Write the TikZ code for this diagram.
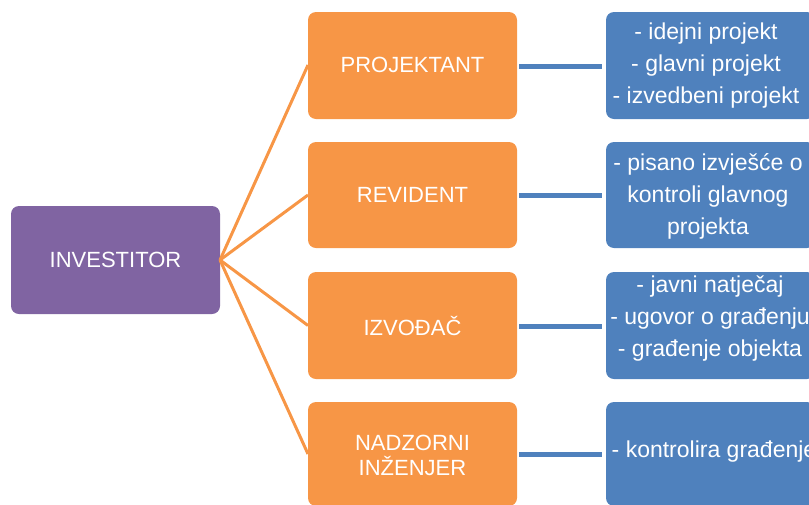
\documentclass[tikz,border=0pt]{standalone}
\usepackage{fontspec}
\setmainfont{Liberation Sans}
\definecolor{cpurple}{HTML}{8064A2}
\definecolor{corange}{HTML}{F79646}
\definecolor{cblue}{HTML}{4F81BD}
\begin{document}
\begin{tikzpicture}[x=1pt,y=-1pt,
  box/.style={rounded corners=8pt, inner sep=0pt, text=white, align=center},
  invbox/.style={box, fill=cpurple, font=\fontsize{22}{26}\selectfont},
  rolebox/.style={box, fill=corange, font=\fontsize{22}{25}\selectfont},
  taskbox/.style={box, fill=cblue, font=\fontsize{23}{32}\selectfont},
  oline/.style={draw=corange, line width=3pt},
  bline/.style={draw=cblue, line width=5pt, shorten <=2pt, shorten >=4pt}]
\useasboundingbox (0,0) rectangle (809,504);
\clip (0,0) rectangle (809,504);
\path[fill=cpurple,rounded corners=8pt] (11,206) rectangle (220,314);
\node[inner sep=0pt,text=white,font=\fontsize{22}{26}\selectfont] (inv) at (115.5,260) {INVESTITOR};
\coordinate (invR) at (220,260);

\path[fill=corange,rounded corners=8pt] (308,12) rectangle (517,119);
\path[fill=corange,rounded corners=8pt] (308,142) rectangle (517,248);
\path[fill=corange,rounded corners=8pt] (308,272) rectangle (517,379);
\path[fill=corange,rounded corners=8pt] (308,402) rectangle (517,506);
\node[rolebox] (p1) at (412.5,65) {PROJEKTANT};
\node[rolebox] (p2) at (412.5,195) {REVIDENT};
\node[rolebox] (p3) at (412.5,325.5) {IZVOĐAČ};
\node[rolebox] (p4) at (412.5,455) {NADZORNI\\INŽENJER};
\coordinate (p1L) at (308,65);
\coordinate (p2L) at (308,195);
\coordinate (p3L) at (308,325.5);
\coordinate (p4L) at (308,454);
\coordinate (p1R) at (517,66);
\coordinate (p2R) at (517,195);
\coordinate (p3R) at (517,326);
\coordinate (p4R) at (517,454);

\path[fill=cblue,rounded corners=8pt] (606,12) rectangle (815,119);
\path[fill=cblue,rounded corners=8pt] (606,142) rectangle (815,248);
\path[fill=cblue,rounded corners=8pt] (606,272) rectangle (815,379);
\path[fill=cblue,rounded corners=8pt] (606,402) rectangle (815,506);
\node[taskbox] (t1) at (706,66) {- idejni projekt\\- glavni projekt\\- izvedbeni projekt};
\node[taskbox] (t2) at (708,196) {- pisano izvješće o\\kontroli glavnog\\projekta};
\node[taskbox] (t3) at (710,319) {- javni natječaj\\- ugovor o građenju\\- građenje objekta};
\node[taskbox] (t4) at (714,452) {- kontrolira građenje};
\coordinate (t1L) at (606,66);
\coordinate (t2L) at (606,195);
\coordinate (t3L) at (606,326);
\coordinate (t4L) at (606,454);

\foreach \i in {1,2,3,4} {
  \draw[oline] (invR) -- (p\i L);
  \draw[bline] (p\i R) -- (t\i L);
}
\end{tikzpicture}
\end{document}
